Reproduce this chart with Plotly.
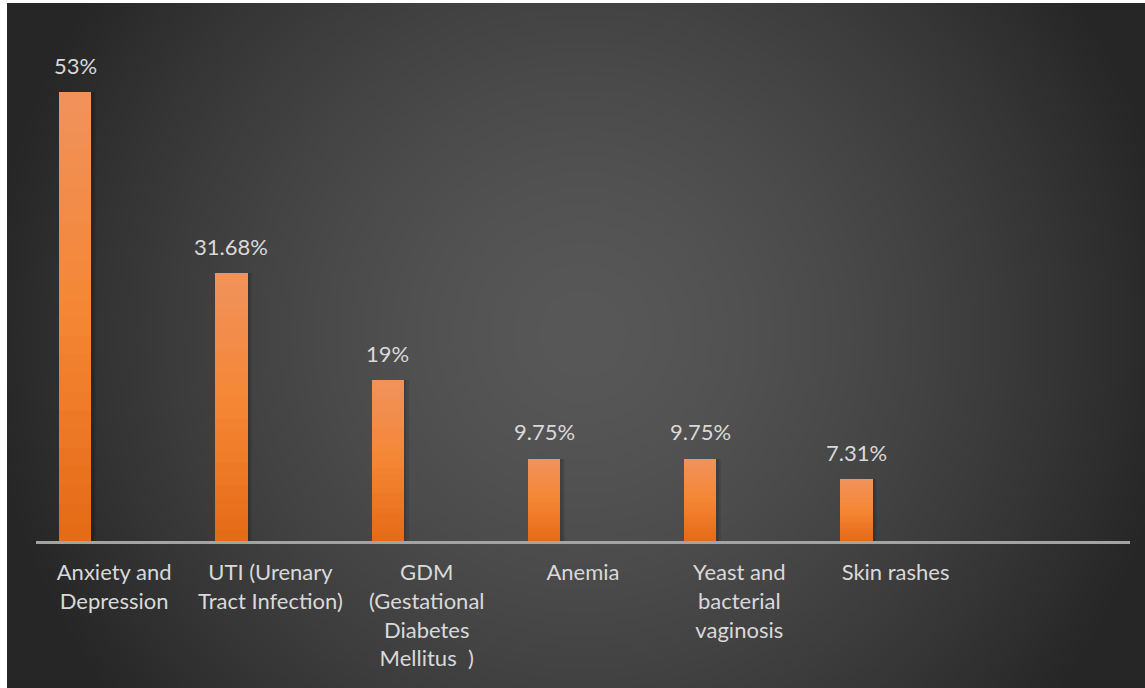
import base64
import struct
import zlib

import numpy as np
import plotly.graph_objects as go

# ---- data -------------------------------------------------------------
conditions = [
    "Anxiety and<br>Depression",
    "UTI (Urenary<br>Tract Infection)",
    "GDM<br>(Gestational<br>Diabetes<br>Mellitus\u00a0 )",
    "Anemia",
    "Yeast and<br>bacterial<br>vaginosis",
    "Skin rashes",
]
prevalence = [53, 31.68, 19, 9.75, 9.75, 7.31]

# ---- geometry / style -------------------------------------------------
W, H = 1145, 688
BAR_OFFSET = -0.353
BAR_WIDTH = 0.207
TEXT_COLOR = "#D9D9D9"
FONT = "Lato"


def radial_background(w, h):
    """Grey radial gradient (light centre, dark rim) encoded as a PNG data URI."""
    yy, xx = np.mgrid[0:h, 0:w]
    cx, cy = w * 0.505, h * 0.48
    r = np.hypot(xx - cx, yy - cy) / (w * 0.5)
    v = 88 - 46 * np.power(r, 1.5)
    v = np.clip(v, 38, 88).astype(np.uint8)
    raw = b"".join(b"\x00" + row.tobytes() for row in v)

    def chunk(tag, data):
        return (struct.pack(">I", len(data)) + tag + data
                + struct.pack(">I", zlib.crc32(tag + data) & 0xFFFFFFFF))

    png = (b"\x89PNG\r\n\x1a\n"
           + chunk(b"IHDR", struct.pack(">IIBBBBB", w, h, 8, 0, 0, 0, 0))
           + chunk(b"IDAT", zlib.compress(raw, 9))
           + chunk(b"IEND", b""))
    return "data:image/png;base64," + base64.b64encode(png).decode()


def lerp_color(t):
    stops = [(0.0, (228, 106, 22)), (0.5, (245, 134, 52)), (1.0, (240, 146, 92))]
    for (t0, c0), (t1, c1) in zip(stops, stops[1:]):
        if t <= t1:
            f = (t - t0) / (t1 - t0)
            return "rgb(%d,%d,%d)" % tuple(round(a + (b - a) * f) for a, b in zip(c0, c1))
    return "rgb(%d,%d,%d)" % stops[-1][1]


x_idx = list(range(len(conditions)))
fig = go.Figure()

# soft drop shadow to the right of each bar (two faint layers)
for shift, alpha in [(0.03, 0.08), (0.015, 0.12)]:
    fig.add_trace(go.Bar(
        x=x_idx, y=prevalence, offset=BAR_OFFSET + shift, width=BAR_WIDTH,
        marker=dict(color=f"rgba(0,0,0,{alpha})", line=dict(width=0)),
        hoverinfo="skip", showlegend=False,
    ))

# bars with a vertical orange gradient, built from stacked slices
N_SLICES = 24
for k in range(N_SLICES):
    lo = [v * k / N_SLICES for v in prevalence]
    step = [v / N_SLICES for v in prevalence]
    fig.add_trace(go.Bar(
        x=x_idx, y=step, base=lo, offset=BAR_OFFSET, width=BAR_WIDTH,
        marker=dict(color=lerp_color((k + 0.5) / N_SLICES), line=dict(width=0)),
        hovertemplate="%{customdata}%<extra></extra>",
        customdata=prevalence, showlegend=False,
    ))

# value labels above the bars
for i, v in zip(x_idx, prevalence):
    fig.add_annotation(
        x=i + BAR_OFFSET + BAR_WIDTH / 2, y=v, text=f"{v:g}%",
        showarrow=False, yanchor="bottom", yshift=11,
        font=dict(family=FONT, size=22, color=TEXT_COLOR),
    )

fig.update_layout(
    width=W, height=H,
    margin=dict(l=0, r=0, t=0, b=0),
    paper_bgcolor="white",
    plot_bgcolor="rgba(0,0,0,0)",
    barmode="overlay",
    bargap=0,
    showlegend=False,
    font=dict(family=FONT, color=TEXT_COLOR),
    images=[dict(
        source=radial_background(569, 343),
        xref="paper", yref="paper",
        x=7 / W, y=1 - 3 / H, sizex=1 - 7 / W, sizey=1 - 3 / H,
        xanchor="left", yanchor="top", sizing="stretch", layer="below",
    )],
    xaxis=dict(
        domain=[36 / W, 1130 / W],
        range=[-0.5, 6.5],
        tickmode="array", tickvals=x_idx, ticktext=conditions,
        tickangle=0,
        tickfont=dict(family=FONT, size=22, color=TEXT_COLOR),
        showline=True, linecolor="#A3A3A3", linewidth=3,
        showgrid=False, zeroline=False, ticks="",
        ticklabelstandoff=10,
    ),
    yaxis=dict(
        domain=[1 - 541 / H, 1 - 32.7 / H],
        range=[0, 60],
        visible=False, showgrid=False, zeroline=False,
    ),
)

fig.write_html("out.html")
